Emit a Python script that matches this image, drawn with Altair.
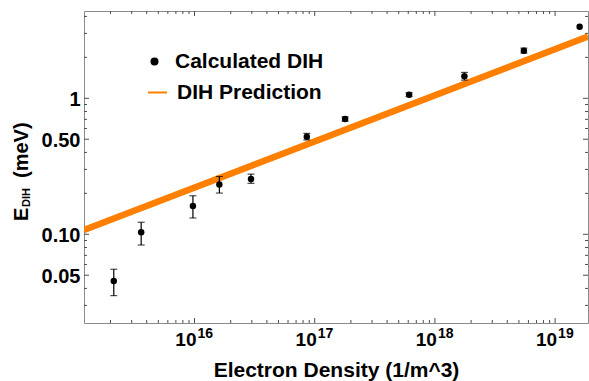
import altair as alt
import pandas as pd

# Measured DIH energies vs electron density, with error bounds
density = [2.13e15, 3.6e15, 9.7e15, 1.61e16, 2.95e16, 8.6e16, 1.79e17, 6.1e17, 1.76e18, 5.5e18, 1.6e19]
energy = [0.0454, 0.1035, 0.1615, 0.232, 0.255, 0.522, 0.705, 1.063, 1.45, 2.24, 3.36]
err_lo = [0.0354, 0.0834, 0.1318, 0.201, 0.237, 0.494, 0.68, 1.03, 1.36, 2.15, 3.36]
err_hi = [0.0553, 0.1226, 0.192, 0.266, 0.277, 0.552, 0.73, 1.10, 1.55, 2.34, 3.36]

# Predicted power law (end points across the plotted range)
fit_density = [1.204e15, 1.878e19]
fit_energy = [0.1075, 2.85]

x_domain = [1.204e15, 1.878e19]
y_domain = [0.02227, 4.385]

x_major = [1e16, 1e17, 1e18, 1e19]
x_exponents = ["16", "17", "18", "19"]
x_minor = [k * 10.0 ** e for e in range(15, 20) for k in range(2, 10)
           if x_domain[0] <= k * 10.0 ** e <= x_domain[1]]
y_major = [0.05, 0.1, 0.5, 1.0]
y_minor = [round(k * 10.0 ** e, 4) for e in (-2, -1, 0) for k in range(2, 10)
           if y_domain[0] <= k * 10.0 ** e <= y_domain[1]]
y_minor = [v for v in y_minor if v not in y_major]

W, H = 504, 312
FONT = "Liberation Sans"
ORANGE = "#FF8000"
TICK = "#4d4d4d"

xs = alt.Scale(type="log", domain=x_domain, nice=False)
ys = alt.Scale(type="log", domain=y_domain, nice=False)

x_axis = alt.Axis(title="Electron Density (1/m^3)", labels=False, ticks=False,
                  domain=False, grid=False, titleFont=FONT, titleFontSize=21,
                  titleFontWeight="bold", titleColor="black",
                  titleBaseline="alphabetic", titleY=53)
y_axis = alt.Axis(title=None, values=y_major,
                  labelExpr="datum.value == 1 ? '1' : format(datum.value, '.2f')",
                  ticks=False, domain=False, grid=False, labelFont=FONT,
                  labelFontSize=20, labelFontWeight="bold", labelColor="black",
                  labelPadding=4, labelOverlap=False, labelOffset=1)

pts_df = pd.DataFrame({"n": density, "e": energy, "lo": err_lo, "hi": err_hi,
                       "pt": "Calculated DIH"})
fit_df = pd.DataFrame({"n": fit_density, "e": fit_energy, "ln": "DIH Prediction"})

fit = alt.Chart(fit_df).mark_line(strokeWidth=6.5, clip=True, strokeCap="butt").encode(
    x=alt.X("n:Q", scale=xs, axis=x_axis),
    y=alt.Y("e:Q", scale=ys, axis=y_axis),
    color=alt.Color("ln:N", scale=alt.Scale(domain=["DIH Prediction"], range=[ORANGE]),
                    legend=alt.Legend(title=None, orient="none", legendX=63, legendY=71,
                                      padding=0, symbolType="stroke", symbolSize=361,
                                      symbolStrokeWidth=2, labelOffset=9,
                                      labelFont=FONT, labelFontSize=21,
                                      labelFontWeight="bold", labelColor="black")),
)

err_base = alt.Chart(pts_df).transform_filter("datum.hi > datum.lo")
err_rule = err_base.mark_rule(color="black", strokeWidth=1.2).encode(
    x=alt.X("n:Q", scale=xs), y=alt.Y("lo:Q", scale=ys), y2="hi:Q")
cap_lo = err_base.mark_tick(orient="horizontal", size=7, thickness=1.2, color="black").encode(
    x=alt.X("n:Q", scale=xs), y=alt.Y("lo:Q", scale=ys))
cap_hi = err_base.mark_tick(orient="horizontal", size=7, thickness=1.2, color="black").encode(
    x=alt.X("n:Q", scale=xs), y=alt.Y("hi:Q", scale=ys))

points = alt.Chart(pts_df).mark_point(filled=True, size=42, color="black", opacity=1).encode(
    x=alt.X("n:Q", scale=xs),
    y=alt.Y("e:Q", scale=ys),
    shape=alt.Shape("pt:N", scale=alt.Scale(domain=["Calculated DIH"], range=["circle"]),
                    legend=alt.Legend(title=None, orient="none", legendX=60, legendY=40,
                                      padding=0, symbolSize=64, symbolFillColor="black",
                                      symbolStrokeColor="black", symbolStrokeWidth=0,
                                      labelOffset=10, labelFont=FONT, labelFontSize=21,
                                      labelFontWeight="bold", labelColor="black")),
)


# Inward-pointing ticks on all four sides of the frame
def x_ticks(vals, length):
    base = alt.Chart(pd.DataFrame({"v": vals})).mark_rule(color=TICK, strokeWidth=1)
    return [
        base.encode(x=alt.X("v:Q", scale=xs), y=alt.value(H), y2=alt.value(H - length)),
        base.encode(x=alt.X("v:Q", scale=xs), y=alt.value(0), y2=alt.value(length)),
    ]


def y_ticks(vals, length):
    base = alt.Chart(pd.DataFrame({"v": vals})).mark_rule(color=TICK, strokeWidth=1)
    return [
        base.encode(y=alt.Y("v:Q", scale=ys), x=alt.value(0), x2=alt.value(length)),
        base.encode(y=alt.Y("v:Q", scale=ys), x=alt.value(W), x2=alt.value(W - length)),
    ]


ticks = x_ticks(x_major, 5) + x_ticks(x_minor, 3) + y_ticks(y_major, 5) + y_ticks(y_minor, 3)

# Power-of-ten tick labels on the x axis
dec_df = pd.DataFrame({"v": x_major, "exp": x_exponents})
tens = alt.Chart(dec_df).mark_text(text="10", align="right", baseline="alphabetic", dx=2,
                                   font=FONT, fontSize=19, fontWeight="bold",
                                   color="black").encode(
    x=alt.X("v:Q", scale=xs), y=alt.value(H + 23))
exps = alt.Chart(dec_df).mark_text(align="left", baseline="alphabetic", dx=3,
                                   font=FONT, fontSize=14, fontWeight="bold",
                                   color="black").encode(
    x=alt.X("v:Q", scale=xs), y=alt.value(H + 14.5), text="exp:N")

# Rotated y-axis title with subscript
def vtitle(txt, size, xpos, ypos):
    return alt.Chart(pd.DataFrame({"t": [txt]})).mark_text(
        angle=270, align="left", baseline="alphabetic", font=FONT, fontSize=size,
        fontWeight="bold", color="black").encode(
        x=alt.value(xpos), y=alt.value(ypos), text="t:N")


ytitle = [vtitle("E", 20, -56, 210), vtitle("DIH", 11, -54, 196), vtitle("(meV)", 20, -56, 167)]

chart = alt.layer(fit, err_rule, cap_lo, cap_hi, points, *ticks, tens, exps, *ytitle).properties(
    width=W, height=H, autosize="none",
    padding={"left": 84, "top": 11, "right": 1, "bottom": 58},
    background="white",
).configure_view(stroke="#8a8a8a", strokeWidth=1)

chart.save("out.html", embed_options={"renderer": "svg", "actions": False})
